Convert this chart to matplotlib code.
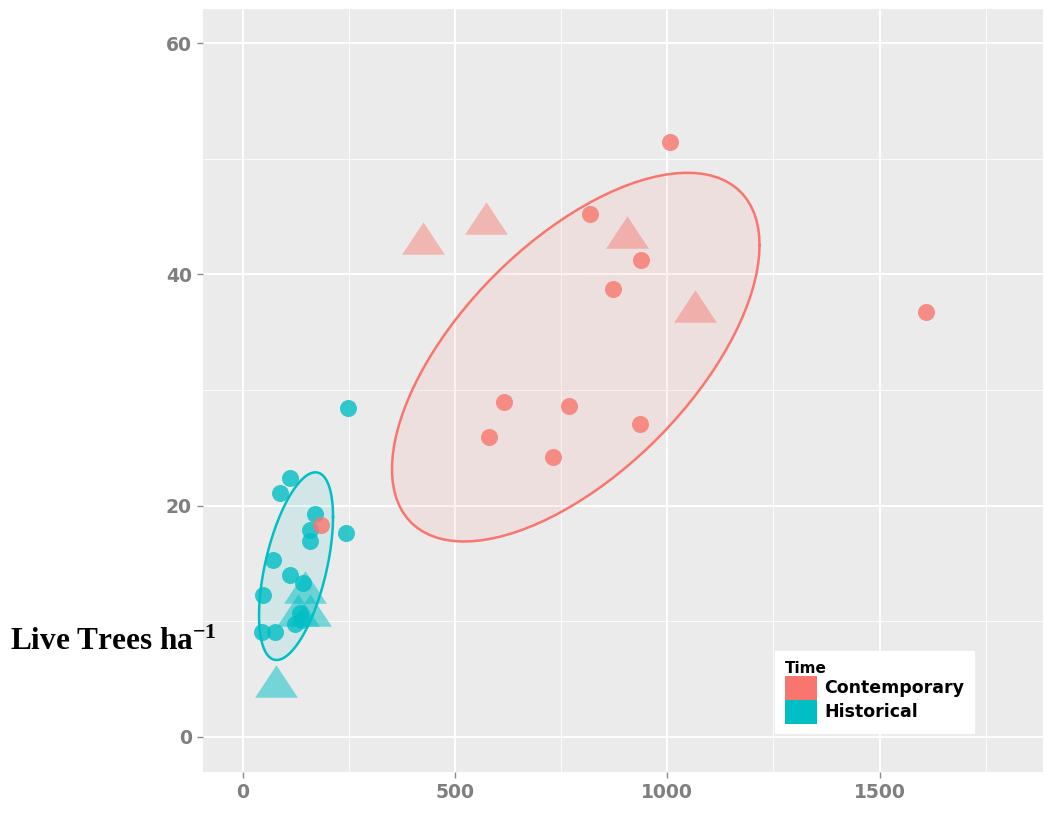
import numpy as np
import matplotlib
matplotlib.use("Agg")
import matplotlib.pyplot as plt
from matplotlib.patches import Patch, Polygon
from matplotlib.path import Path
from matplotlib.ticker import MultipleLocator

plt.rcParams["mathtext.fontset"] = "custom"
plt.rcParams["mathtext.rm"] = "Liberation Serif:bold"
plt.rcParams["mathtext.bf"] = "Liberation Serif:bold"
plt.rcParams["mathtext.it"] = "Liberation Serif:bold"

# ---------------- data ----------------
contemp_circ_x = [1007, 818, 938, 872, 1609, 616, 769, 581, 731, 936, 185]
contemp_circ_y = [51.4, 45.2, 41.2, 38.7, 36.7, 29.0, 28.6, 25.9, 24.2, 27.1, 18.3]
contemp_tri_x = [425, 573, 905, 1065]
contemp_tri_y = [43.1, 44.9, 43.7, 37.3]

hist_circ_x = [112, 88, 170, 158, 158, 243, 72, 111, 143, 48, 135, 123, 139, 45, 76, 248]
hist_circ_y = [22.4, 21.1, 19.3, 17.9, 16.9, 17.6, 15.3, 14.0, 13.3, 12.3, 10.7, 9.8, 10.1, 9.1, 9.1, 28.4]
hist_tri_x = [79, 147, 130, 158]
hist_tri_y = [4.8, 13.0, 11.0, 11.0]

groups = ["Contemporary", "Historical"]
colors = {"Contemporary": "#F8766D", "Historical": "#00BFC4"}
x_ticks = [0, 500, 1000, 1500]
y_ticks = [0, 20, 40, 60]
ellipse_level = 0.75


# ---------------- ggplot2 stat_ellipse (type="t") ----------------
def cov_trob(X, nu=5, maxit=25, tol=0.01):
    n, p = X.shape
    wt = np.ones(n)
    loc = X.mean(axis=0)
    w = np.sqrt(wt)
    Xc = X - loc
    for _ in range(maxit):
        w0 = w
        Xc = X - loc
        _, d, Vt = np.linalg.svd(np.sqrt(w / w.sum())[:, None] * Xc, full_matrices=False)
        wX = Xc @ Vt.T @ np.diag(1.0 / d)
        Q = (wX ** 2).sum(axis=1)
        w = (wt * (nu + p)) / (nu + Q)
        loc = (w[:, None] * X).sum(axis=0) / w.sum()
        if np.all(np.abs(w - w0) < tol):
            break
    sX = np.sqrt(w)[:, None] * Xc
    cov = sX.T @ sX / wt.sum()
    return cov, loc


def ellipse_points(x, y, level=0.95, segments=101):
    X = np.column_stack([x, y]).astype(float)
    cov, center = cov_trob(X)
    dfd = X.shape[0] - 1
    fq = dfd / 2.0 * ((1 - level) ** (-2.0 / dfd) - 1)  # qf(level, 2, dfd)
    radius = np.sqrt(2 * fq)
    R = np.linalg.cholesky(cov).T
    ang = np.linspace(0, 2 * np.pi, segments + 1)
    unit = np.column_stack([np.cos(ang), np.sin(ang)])
    return center + radius * (unit @ R)


# ---------------- figure ----------------
W, H = 1045, 834
fig = plt.figure(figsize=(W / 100, H / 100), dpi=100)
ax = fig.add_axes([203 / W, 1 - 772 / H, 840 / W, 763 / H])
ax.set_facecolor("#EBEBEB")
for s in ax.spines.values():
    s.set_visible(False)

ax.set_xlim(-93.5, 1885)
ax.set_ylim(-3.03, 62.94)
ax.xaxis.set_minor_locator(MultipleLocator(250))
ax.yaxis.set_minor_locator(MultipleLocator(10))
ax.set_xticks(x_ticks)
ax.set_yticks(y_ticks)
ax.grid(which="major", color="white", linewidth=1.4)
ax.grid(which="minor", color="white", linewidth=0.6)
ax.set_axisbelow(True)
ax.tick_params(which="minor", length=0)
ax.tick_params(which="major", length=4, width=1, color="#8a8a8a",
               labelcolor="#7f7f7f", labelsize=13.5, pad=4)
for lab in ax.get_xticklabels() + ax.get_yticklabels():
    lab.set_fontweight("bold")

# ellipses
for g, cx, cy in [("Contemporary", contemp_circ_x, contemp_circ_y),
                  ("Historical", hist_circ_x, hist_circ_y)]:
    pts = ellipse_points(cx, cy, level=ellipse_level)
    ax.add_patch(Polygon(pts, closed=True, facecolor=colors[g], alpha=0.1,
                         edgecolor="none", zorder=2))
    ax.plot(pts[:, 0], pts[:, 1], color=colors[g], linewidth=1.8, zorder=2.5)

tri = Path([(0, 0.76), (-1, -0.76), (1, -0.76), (0, 0.76)],
           [Path.MOVETO, Path.LINETO, Path.LINETO, Path.CLOSEPOLY])

ax.scatter(contemp_tri_x, contemp_tri_y, marker=tri, s=950, color=colors["Contemporary"],
           alpha=0.45, linewidths=0, zorder=3)
ax.scatter(hist_tri_x, hist_tri_y, marker=tri, s=950, color=colors["Historical"],
           alpha=0.5, linewidths=0, zorder=3)
ax.scatter(hist_circ_x, hist_circ_y, marker="o", s=150, color=colors["Historical"],
           alpha=0.8, linewidths=0, zorder=4)
ax.scatter(contemp_circ_x, contemp_circ_y, marker="o", s=150, color=colors["Contemporary"],
           alpha=0.8, linewidths=0, zorder=4)

# legend
handles = [Patch(facecolor=colors[g], edgecolor="none", label=g) for g in groups]
leg = ax.legend(handles=handles, title="Time", loc="lower left",
                bbox_to_anchor=(0.681, 0.051), frameon=True, fancybox=False,
                framealpha=1, edgecolor="white", facecolor="white",
                prop={"weight": "bold", "size": 12.5}, handlelength=1.85,
                handleheight=1.75, handletextpad=0.45, labelspacing=0.0,
                borderpad=0.55, borderaxespad=0, alignment="left")
leg.get_title().set_fontweight("bold")
leg.get_title().set_fontsize(11)

# y label (placed as in reference)
fig.text(10 / W, 1 - 642 / H, r"Live Trees ha$^{\mathbf{-1}}$", fontsize=22.5,
         fontweight="bold", family="Liberation Serif", ha="left", va="center")

fig.savefig("out.png", dpi=100)
